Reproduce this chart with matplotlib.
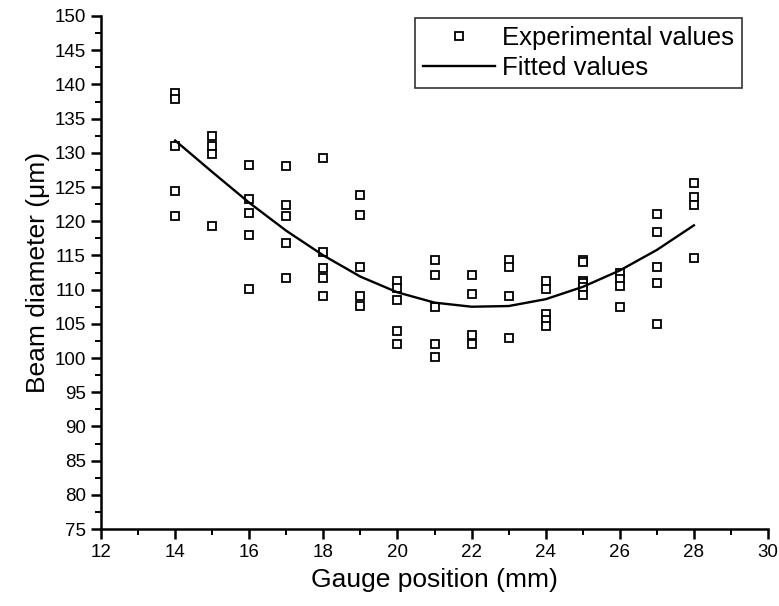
import matplotlib.pyplot as plt

plt.rcParams["font.family"] = ["Liberation Sans", "DejaVu Sans"]

# -------------------------
# Data
# -------------------------

gauge_pos = (
    [14] * 5 + [15] * 4 + [16] * 5 + [17] * 5 + [18] * 5
    + [19] * 5 + [20] * 5 + [21] * 5 + [22] * 4 + [23] * 4
    + [24] * 5 + [25] * 6 + [26] * 4 + [27] * 5 + [28] * 4
)

beam_diam = [
    138.8, 137.8, 131.0, 124.4, 120.8,
    132.4, 131.0, 129.8, 119.3,
    128.2, 123.3, 121.2, 118.0, 110.1,
    128.1, 122.4, 120.8, 116.8, 111.7,
    129.2, 115.5, 113.1, 111.7, 109.0,
    123.9, 120.9, 113.3, 109.0, 107.6,
    111.3, 110.2, 108.5, 103.9, 102.0,
    114.3, 112.1, 107.5, 102.0, 100.2,
    112.1, 109.4, 103.4, 102.0,
    114.4, 113.3, 109.0, 103.0,
    111.2, 110.1, 106.4, 105.6, 104.7,
    114.4, 114.0, 111.3, 110.9, 110.4, 109.2,
    112.4, 111.6, 110.5, 107.5,
    121.1, 118.4, 113.3, 111.0, 105.0,
    125.6, 123.6, 122.4, 114.6,
]

fit_pos = [14, 15, 16, 17, 18, 19, 20, 21, 22, 23, 24, 25, 26, 27, 28]
fit_diam = [131.8, 127.2, 122.7, 118.6, 115.0, 111.9, 109.6, 108.1,
            107.5, 107.6, 108.6, 110.4, 112.8, 115.8, 119.4]

# -------------------------
# Plot
# -------------------------

fig = plt.figure(figsize=(7.79, 6.06), dpi=100)
ax = fig.add_axes([0.1297, 0.127, 0.8562, 0.8466])

ax.plot(
    gauge_pos,
    beam_diam,
    linestyle="none",
    marker="s",
    markersize=5.2,
    markerfacecolor="white",
    markeredgecolor="black",
    markeredgewidth=1.3,
    label="Experimental values"
)

ax.plot(
    fit_pos,
    fit_diam,
    color="black",
    linewidth=1.7,
    label="Fitted values"
)

ax.set_xlim(12, 30)
ax.set_ylim(75, 150)
ax.set_xticks(range(12, 31, 2))
ax.set_xticks(range(13, 30, 2), minor=True)
ax.set_yticks(range(75, 151, 5))
ax.set_yticks([77.5 + 5 * i for i in range(15)], minor=True)

ax.spines["top"].set_visible(False)
ax.spines["right"].set_visible(False)
ax.spines["left"].set_linewidth(1.8)
ax.spines["bottom"].set_linewidth(1.8)

ax.tick_params(which="major", direction="out", length=7, width=1.8,
               labelsize=13.5, pad=4)
ax.tick_params(which="minor", direction="out", length=4, width=1.4)

ax.set_xlabel("Gauge position (mm)", fontsize=19, labelpad=5)
ax.set_ylabel("Beam diameter (\u03bcm)", fontsize=19, labelpad=3)

leg = ax.legend(
    loc="upper right",
    bbox_to_anchor=(742 / 779, 1 - 18 / 606),
    bbox_transform=fig.transFigure,
    fontsize=18.5,
    frameon=True,
    fancybox=False,
    handlelength=2.8,
    handletextpad=0.28,
    borderpad=0.3,
    labelspacing=0.25,
    borderaxespad=0
)
leg.get_frame().set_edgecolor("black")
leg.get_frame().set_linewidth(1.2)

plt.savefig("out.png", dpi=100)
